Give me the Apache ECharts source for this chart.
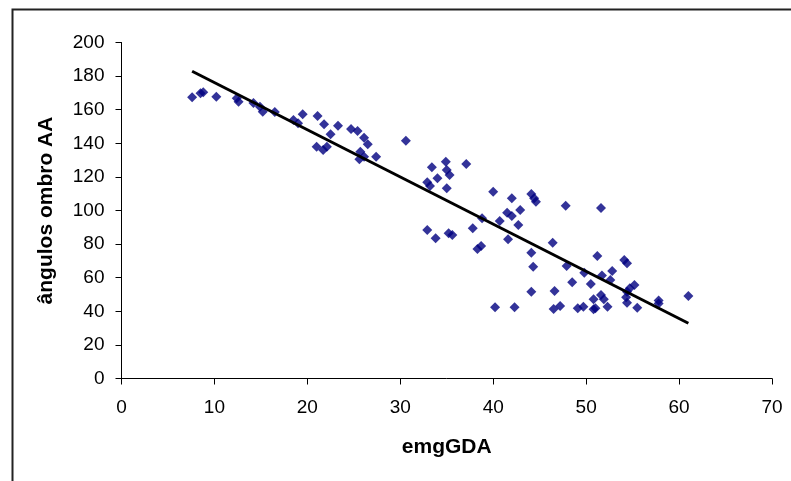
<!DOCTYPE html>
<html>
<head>
<meta charset="utf-8">
<script src="https://cdn.jsdelivr.net/npm/echarts@6/dist/echarts.min.js"></script>
<style>
  html, body { margin: 0; padding: 0; background: #fff; }
  #chart { width: 791px; height: 481px; }
</style>
</head>
<body>
<div id="chart"></div>
<script>
// emgGDA readings (x) and shoulder angles (y)
const emgGDA = [
  7.6, 8.5, 8.8, 10.2, 12.4, 12.6, 14.2, 14.9, 15.2, 16.5,
  18.5, 19.0, 19.5, 21.1, 21.8, 22.5, 23.3, 21.0, 21.7, 22.1,
  24.7, 25.4, 26.1, 26.5, 25.7, 26.1, 25.6, 27.4, 30.6, 33.4,
  34.9, 35.0, 35.3, 34.0, 32.9, 33.2, 35.0, 37.1, 32.9, 33.8,
  35.2, 35.6, 37.8, 38.3, 38.7, 40.0, 42.0, 44.1, 44.4, 44.6,
  47.8, 38.8, 41.5, 42.0, 42.9, 40.7, 42.7, 41.6, 44.1, 46.4,
  44.3, 47.9, 48.5, 44.1, 46.6, 40.2, 42.3, 46.5, 47.2, 49.1,
  49.7, 50.8, 51.0, 49.8, 51.2, 54.1, 54.4, 51.7, 52.8, 52.6,
  50.5, 55.2, 54.7, 54.4, 50.8, 51.6, 51.9, 52.3, 54.3, 54.4,
  55.5, 57.8, 57.8, 61.0, 51.6
];
const angulosOmbroAA = [
  167.4, 169.8, 170.4, 167.7, 166.8, 164.8, 164.0, 161.8, 158.8, 158.6,
  153.9, 152.0, 157.3, 156.2, 151.3, 145.4, 150.5, 138.0, 136.0, 138.0,
  148.5, 147.3, 143.3, 139.4, 135.0, 132.0, 130.5, 132.0, 141.5, 125.7,
  129.0, 124.1, 121.1, 119.2, 116.8, 114.6, 113.2, 127.7, 88.4, 83.5,
  86.4, 85.4, 89.4, 77.1, 78.9, 111.2, 107.3, 109.8, 107.3, 105.2,
  102.9, 95.4, 98.7, 96.7, 100.3, 93.8, 91.4, 82.9, 74.9, 80.8,
  66.5, 67.0, 57.3, 51.7, 52.1, 42.4, 42.4, 41.4, 43.2, 41.8,
  42.7, 41.2, 41.8, 63.0, 72.9, 70.5, 68.6, 61.3, 64.0, 58.6,
  56.3, 55.7, 53.7, 51.7, 47.1, 49.7, 47.1, 42.7, 48.3, 45.1,
  42.1, 46.4, 44.6, 49.1, 101.5
];
const xTicks = [0, 10, 20, 30, 40, 50, 60, 70];
const yTicks = [0, 20, 40, 60, 80, 100, 120, 140, 160, 180, 200];

// least-squares linear trend over the data range
function linearTrend(xs, ys) {
  const n = xs.length;
  let sx = 0, sy = 0, sxx = 0, sxy = 0;
  for (let i = 0; i < n; i++) {
    sx += xs[i]; sy += ys[i]; sxx += xs[i] * xs[i]; sxy += xs[i] * ys[i];
  }
  const slope = (n * sxy - sx * sy) / (n * sxx - sx * sx);
  const intercept = (sy - slope * sx) / n;
  const x0 = Math.min(...xs), x1 = Math.max(...xs);
  return [[x0, intercept + slope * x0], [x1, intercept + slope * x1]];
}

const points = emgGDA.map((x, i) => [x, angulosOmbroAA[i]]);
const trend = linearTrend(emgGDA, angulosOmbroAA);

const font = 'Liberation Sans, Arial, sans-serif';
const chart = echarts.init(document.getElementById('chart'), null, { renderer: 'canvas' });
chart.setOption({
  animation: false,
  backgroundColor: '#ffffff',
  graphic: [{
    type: 'rect',
    left: 10, top: 7,
    shape: { width: 800, height: 500 },
    style: { fill: 'none', stroke: '#222', lineWidth: 2 },
    silent: true, z: -1
  }],
  grid: { left: 121.5, right: 19, top: 42.5, bottom: 102.5, containLabel: false },
  xAxis: {
    type: 'value',
    min: xTicks[0], max: xTicks[xTicks.length - 1], interval: 10,
    name: 'emgGDA', nameLocation: 'middle', nameGap: 58,
    nameTextStyle: { fontFamily: font, fontWeight: 'bold', fontSize: 21, color: '#000' },
    axisLine: { onZero: false, lineStyle: { color: '#000', width: 1 } },
    axisTick: { show: true, inside: false, length: 6, lineStyle: { color: '#000' } },
    axisLabel: { fontFamily: font, fontSize: 19, color: '#000', margin: 20 },
    splitLine: { show: false }
  },
  yAxis: {
    type: 'value',
    min: yTicks[0], max: yTicks[yTicks.length - 1], interval: 20,
    name: 'ângulos ombro AA', nameLocation: 'middle', nameGap: 65, nameRotate: 90,
    nameTextStyle: { fontFamily: font, fontWeight: 'bold', fontSize: 21, color: '#000' },
    axisLine: { show: true, onZero: false, lineStyle: { color: '#000', width: 1 } },
    axisTick: { show: true, inside: false, length: 6, lineStyle: { color: '#000' } },
    axisLabel: { fontFamily: font, fontSize: 19, color: '#000', margin: 17 },
    splitLine: { show: false }
  },
  series: [
    {
      type: 'scatter',
      data: points,
      symbol: 'diamond',
      symbolSize: 10,
      itemStyle: { color: '#000080' },
      z: 2
    },
    {
      type: 'line',
      data: trend,
      symbol: 'none',
      lineStyle: { color: '#000', width: 3 },
      z: 3
    }
  ]
});
</script>
</body>
</html>
